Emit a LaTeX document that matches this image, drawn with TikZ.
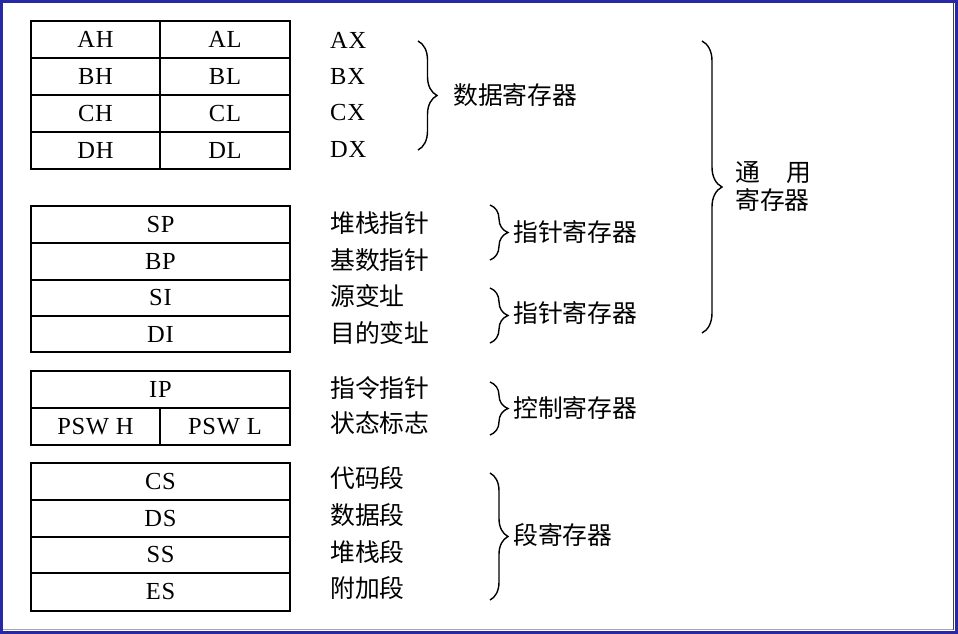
\documentclass[tikz,border=0pt]{standalone}
\usepackage{fontspec}
\setmainfont{Liberation Serif}
\newfontfamily\cjk{Noto Sans CJK SC}
\newfontfamily\lat[LetterSpace=3]{Liberation Serif}
\usetikzlibrary{decorations.pathreplacing}
\definecolor{frameblue}{RGB}{40,40,165}
\tikzset{
  cell/.style={draw=black, line width=1.6pt, inner sep=0pt, font=\lat\fontsize{24.5}{27}\selectfont},
  lab/.style={anchor=west, inner sep=0pt, font=\lat\fontsize{24.5}{27}\selectfont},
  clab/.style={anchor=west, inner sep=0pt, font=\cjk\fontsize{24.8}{28}\selectfont},
  brc/.style={decorate, decoration={brace, amplitude=#1}, line width=1.4pt},
  brc/.default=18pt
}
\begin{document}
\begin{tikzpicture}[x=1pt,y=-1pt]
\useasboundingbox (0,0) rectangle (958,634);
\fill[white] (0,0) rectangle (958,634);
% frame
\draw[frameblue, line width=3pt] (1.5,1.5) rectangle (956.5,632.5);
\draw[black!75, line width=1.2pt] (953.4,3) -- (953.4,630);
\draw[black!35, line width=1.2pt] (3,629.6) -- (953,629.6);

% table 1
\node[cell, minimum width=129pt, minimum height=37pt] (ah) at (95.5,39.75) {AH};
\node[cell, minimum width=130pt, minimum height=37pt] (al) at (225,39.75) {AL};
\node[cell, minimum width=129pt, minimum height=37pt] (bh) at (95.5,76.75) {BH};
\node[cell, minimum width=130pt, minimum height=37pt] (bl) at (225,76.75) {BL};
\node[cell, minimum width=129pt, minimum height=37pt] (ch) at (95.5,113.75) {CH};
\node[cell, minimum width=130pt, minimum height=37pt] (cl) at (225,113.75) {CL};
\node[cell, minimum width=129pt, minimum height=37pt] (dh) at (95.5,150.75) {DH};
\node[cell, minimum width=130pt, minimum height=37pt] (dl) at (225,150.75) {DL};

% table 2
\node[cell, minimum width=259pt, minimum height=37pt] (sp) at (160.5,224.5) {SP};
\node[cell, minimum width=259pt, minimum height=37pt] (bp) at (160.5,261.5) {BP};
\node[cell, minimum width=259pt, minimum height=36pt] (si) at (160.5,298) {SI};
\node[cell, minimum width=259pt, minimum height=36pt] (di) at (160.5,334) {DI};

% table 3
\node[cell, minimum width=259pt, minimum height=37pt] (ip) at (160.5,389.5) {IP};
\node[cell, minimum width=129pt, minimum height=37pt] (pswh) at (95.5,426.5) {PSW H};
\node[cell, minimum width=130pt, minimum height=37pt] (pswl) at (225,426.5) {PSW L};

% table 4
\node[cell, minimum width=259pt, minimum height=37pt] (cs) at (160.5,481.5) {CS};
\node[cell, minimum width=259pt, minimum height=37pt] (ds) at (160.5,518.5) {DS};
\node[cell, minimum width=259pt, minimum height=36pt] (ss) at (160.5,555) {SS};
\node[cell, minimum width=259pt, minimum height=38pt] (es) at (160.5,592) {ES};

% right labels
\node[lab] (ax) at (330,40) {AX};
\node[lab] (bx) at (330,76.5) {BX};
\node[lab] (cx) at (330,113) {CX};
\node[lab] (dx) at (330,149.5) {DX};

\node[clab] (l1) at (330,223) {堆栈指针};
\node[clab] (l2) at (330,260) {基数指针};
\node[clab] (l3) at (330,296) {源变址};
\node[clab] (l4) at (330,333) {目的变址};
\node[clab] (l5) at (330,388) {指令指针};
\node[clab] (l6) at (330,423) {状态标志};
\node[clab] (l7) at (330,478) {代码段};
\node[clab] (l8) at (330,515) {数据段};
\node[clab] (l9) at (330,552) {堆栈段};
\node[clab] (l10) at (330,588) {附加段};

% braces
\coordinate (b1t) at (418,41);  \coordinate (b1b) at (418,150);
\coordinate (b2t) at (490,205); \coordinate (b2b) at (490,260);
\coordinate (b3t) at (490,288); \coordinate (b3b) at (490,343);
\coordinate (b4t) at (490,382); \coordinate (b4b) at (490,435);
\coordinate (b5t) at (490,473); \coordinate (b5b) at (490,600);
\coordinate (b6t) at (702,41);  \coordinate (b6b) at (702,333);
\draw[brc=19pt] (b1t) -- (b1b);
\draw[brc] (b2t) -- (b2b);
\draw[brc] (b3t) -- (b3b);
\draw[brc] (b4t) -- (b4b);
\draw[brc] (b5t) -- (b5b);
\draw[brc=20pt] (b6t) -- (b6b);

% group labels
\node[clab] (g1) at (453,95) {数据寄存器};
\node[clab] (g2) at (513,232) {指针寄存器};
\node[clab] (g3) at (513,313) {指针寄存器};
\node[clab] (g4) at (513,408) {控制寄存器};
\node[clab] (g5) at (513,535) {段寄存器};
\node[clab, align=left] (g6) at (735,186) {通\hspace{1.05em}用\\寄存器};
\end{tikzpicture}
\end{document}
